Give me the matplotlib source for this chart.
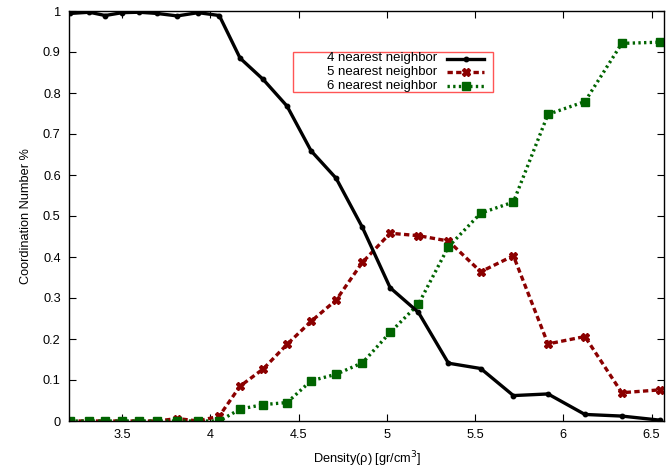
import matplotlib
matplotlib.use("Agg")
import matplotlib.pyplot as plt
from matplotlib.patches import Rectangle
from matplotlib.lines import Line2D

plt.rcParams['font.family'] = ['Liberation Sans', 'DejaVu Sans']

density = [3.205, 3.315, 3.405, 3.502, 3.598, 3.700, 3.813, 3.932, 4.051, 4.169,
           4.300, 4.435, 4.571, 4.713, 4.862, 5.019, 5.179, 5.349, 5.532, 5.717,
           5.913, 6.122, 6.331, 6.548]
nn4 = [0.994, 0.997, 0.989, 0.996, 0.997, 0.994, 0.988, 0.996, 0.989, 0.885,
       0.833, 0.768, 0.659, 0.592, 0.472, 0.325, 0.265, 0.141, 0.128, 0.062,
       0.066, 0.016, 0.012, 0.002]
nn5 = [0.0, 0.0, 0.0, 0.0, 0.0, 0.0, 0.006, 0.0, 0.012, 0.085,
       0.127, 0.187, 0.243, 0.295, 0.387, 0.458, 0.452, 0.439, 0.364, 0.403,
       0.188, 0.206, 0.069, 0.076]
nn6 = [0.0, 0.0, 0.0, 0.0, 0.0, 0.0, 0.0, 0.0, 0.0, 0.029,
       0.040, 0.045, 0.098, 0.114, 0.142, 0.216, 0.285, 0.425, 0.507, 0.534,
       0.748, 0.779, 0.921, 0.924]
labels = ["4 nearest neighbor", "5 nearest neighbor", "6 nearest neighbor"]
xticks = [3.5, 4, 4.5, 5, 5.5, 6, 6.5]
xticklabels = ["3.5", "4", "4.5", "5", "5.5", "6", "6.5"]
yticks = [0, 0.1, 0.2, 0.3, 0.4, 0.5, 0.6, 0.7, 0.8, 0.9, 1]
yticklabels = ["0", "0.1", "0.2", "0.3", "0.4", "0.5", "0.6", "0.7", "0.8", "0.9", "1"]

W, H = 666, 468
fig = plt.figure(figsize=(W / 100, H / 100), dpi=100)
ax = fig.add_axes([69 / W, 1 - 421 / H, (664 - 69) / W, (421 - 11) / H])

styles = [
    dict(color='black', lw=2.4, ls='-', marker='o', ms=3.2),
    dict(color='#8b0000', lw=2.4, ls=(0, (1.6, 1.0)), marker='X', ms=6.2),
    dict(color='#006400', lw=2.4, ls=(0, (0.7, 1.0)), marker='s', ms=5.2),
]
series = [nn4, nn5, nn6]
for vals, st, lab, z in zip(series, styles, labels, [3, 2, 2]):
    ax.plot(density, vals, label=lab, zorder=z, **st)

ax.set_xlim(3.2, 6.57)
ax.set_ylim(0, 1)
ax.set_xticks(xticks)
ax.set_xticklabels(xticklabels)
ax.set_yticks(yticks)
ax.set_yticklabels(yticklabels)
ax.tick_params(direction='in', top=True, right=True, length=5, width=0.8, labelsize=9.2)
ax.tick_params(axis='y', pad=6)
ax.tick_params(axis='x', pad=6)
for s in ax.spines.values():
    s.set_linewidth(1.0)

ax.set_xlabel("Density(\u03c1) [gr/cm$^3$]", fontsize=9.2, labelpad=6)
ax.set_ylabel("Coordination Number %", fontsize=9.2, labelpad=8)

# legend box drawn gnuplot-style: right-aligned text, sample line on the right
fig.add_artist(Rectangle((293 / W, 1 - 92 / H), 200 / W, 40 / H, transform=fig.transFigure,
                         fill=False, edgecolor='#ff5555', lw=1.0))
rows = [58.5, 72.0, 85.5]
for lab, st, ry in zip(labels, styles, rows):
    fig.text(437 / W, 1 - ry / H, lab, ha='right', va='center', fontsize=9.5)
    line = Line2D([447 / W, 484 / W], [1 - ry / H, 1 - ry / H], transform=fig.transFigure,
                  color=st['color'], lw=st['lw'], ls=st['ls'])
    fig.add_artist(line)
    mk = Line2D([465.5 / W], [1 - ry / H], transform=fig.transFigure, color=st['color'],
                marker=st['marker'], ms=st['ms'], ls='none')
    fig.add_artist(mk)

fig.savefig("out.png", dpi=100)
